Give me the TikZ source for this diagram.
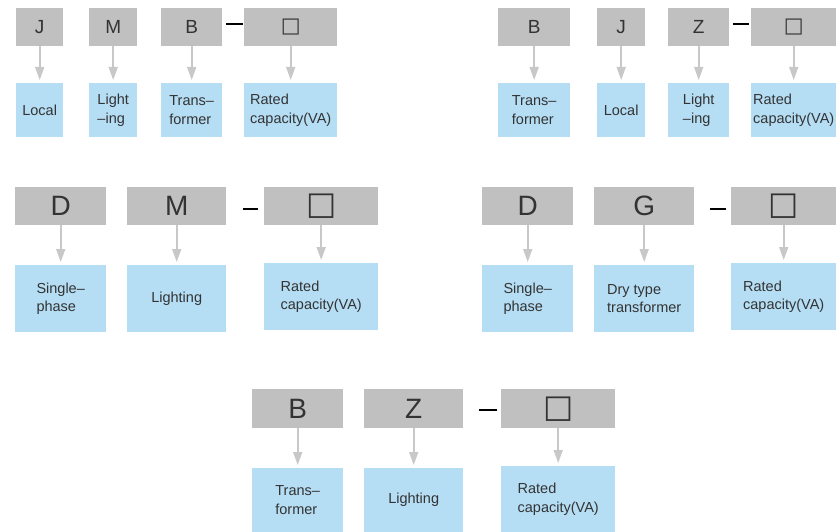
\documentclass[tikz,border=0pt]{standalone}
\usepackage{fontspec}
\setmainfont{Liberation Sans}
\newfontfamily\symfont{DejaVu Sans}
\usetikzlibrary{arrows.meta}
\definecolor{codegray}{HTML}{C0C0C0}
\definecolor{descblue}{HTML}{B5DEF5}
\definecolor{arrowgray}{HTML}{C8C8C8}
\definecolor{txt}{HTML}{333333}
\tikzset{
  code/.style={fill=codegray, draw=none, anchor=north west, inner sep=0pt, text=txt},
  codesmall/.style={code, font=\fontsize{19}{22}\selectfont, minimum height=38pt},
  codebig/.style={code, font=\fontsize{28}{32}\selectfont},
  desc/.style={fill=descblue, draw=none, anchor=north west, inner sep=0pt, align=left, text=txt, font=\fontsize{14.5}{18.5}\selectfont},
  arr/.style={draw=arrowgray, line width=1.6pt, -{Triangle[length=13pt,width=9pt]}, shorten >=3pt},
  hyph/.style={draw=black, line width=1.8pt},
}
\newcommand{\sq}[1]{{\symfont\fontsize{#1}{#1}\selectfont □}}
\begin{document}
\begin{tikzpicture}[x=1pt,y=-1pt]
\useasboundingbox (0,0) rectangle (836,532);
% ---------- top left ----------
\node[codesmall, minimum width=47pt] (a1) at (16,8) {J};
\node[codesmall, minimum width=48pt] (a2) at (89,8) {M};
\node[codesmall, minimum width=61pt] (a3) at (161,8) {B};
\node[codesmall, minimum width=93pt] (a4) at (244,8) {\sq{21}};
\node[desc, minimum width=47pt, minimum height=54pt] (a1d) at (16,83) {Local};
\node[desc, minimum width=48pt, minimum height=54pt] (a2d) at (89,83) {Light\\–ing};
\node[desc, minimum width=61pt, minimum height=54pt] (a3d) at (161,83) {Trans–\\former};
\node[desc, minimum width=93pt, minimum height=54pt] (a4d) at (244,83) {Rated\\capacity(VA)};
\foreach \n in {a1,a2,a3,a4} \draw[arr] (\n.south) -- (\n.south |- \n d.north);
\draw[hyph] ([xshift=4pt,yshift=3pt]a3.east) -- ([xshift=-1pt,yshift=3pt]a4.west);
% ---------- top right ----------
\node[codesmall, minimum width=72pt] (b1) at (498,8) {B};
\node[codesmall, minimum width=48pt] (b2) at (597,8) {J};
\node[codesmall, minimum width=61pt] (b3) at (668,8) {Z};
\node[codesmall, minimum width=85pt] (b4) at (751,8) {\sq{21}};
\node[desc, minimum width=72pt, minimum height=54pt] (b1d) at (498,83) {Trans–\\former};
\node[desc, minimum width=48pt, minimum height=54pt] (b2d) at (597,83) {Local};
\node[desc, minimum width=61pt, minimum height=54pt] (b3d) at (668,83) {Light\\–ing};
\node[desc, minimum width=85pt, minimum height=54pt, text width=81pt, inner xsep=2pt] (b4d) at (751,83) {Rated\\capacity(VA)};
\foreach \n in {b1,b2,b3,b4} \draw[arr] (\n.south) -- (\n.south |- \n d.north);
\draw[hyph] ([xshift=4pt,yshift=3pt]b3.east) -- ([xshift=-2pt,yshift=3pt]b4.west);
% ---------- middle left ----------
\node[codebig, minimum width=91pt, minimum height=38pt] (c1) at (15,187) {D};
\node[codebig, minimum width=99pt, minimum height=38pt] (c2) at (127,187) {M};
\node[codebig, minimum width=114pt, minimum height=38pt] (c3) at (264,187) {\sq{32}};
\node[desc, minimum width=91pt, minimum height=67pt] (c1d) at (15,265) {Single–\\phase};
\node[desc, minimum width=99pt, minimum height=67pt] (c2d) at (127,265) {Lighting};
\node[desc, minimum width=114pt, minimum height=67pt] (c3d) at (264,263) {Rated\\capacity(VA)};
\foreach \n in {c1,c2,c3} \draw[arr] (\n.south) -- (\n.south |- \n d.north);
\draw[hyph] ([xshift=17pt,yshift=-3pt]c2.east) -- ([xshift=-6pt,yshift=-3pt]c3.west);
% ---------- middle right ----------
\node[codebig, minimum width=91pt, minimum height=38pt] (d1) at (482,187) {D};
\node[codebig, minimum width=100pt, minimum height=38pt] (d2) at (594,187) {G};
\node[codebig, minimum width=105pt, minimum height=38pt] (d3) at (731,187) {\sq{32}};
\node[desc, minimum width=91pt, minimum height=67pt] (d1d) at (482,265) {Single–\\phase};
\node[desc, minimum width=100pt, minimum height=67pt] (d2d) at (594,265) {Dry type\\transformer};
\node[desc, minimum width=105pt, minimum height=67pt] (d3d) at (731,263) {Rated\\capacity(VA)};
\foreach \n in {d1,d2,d3} \draw[arr] (\n.south) -- (\n.south |- \n d.north);
\draw[hyph] ([xshift=16pt,yshift=-3pt]d2.east) -- ([xshift=-5pt,yshift=-3pt]d3.west);
% ---------- bottom ----------
\node[codebig, minimum width=91pt, minimum height=39pt] (e1) at (252,389) {B};
\node[codebig, minimum width=99pt, minimum height=39pt] (e2) at (364,389) {Z};
\node[codebig, minimum width=114pt, minimum height=39pt] (e3) at (501,389) {\sq{32}};
\node[desc, minimum width=91pt, minimum height=64pt] (e1d) at (252,468) {Trans–\\former};
\node[desc, minimum width=99pt, minimum height=64pt] (e2d) at (364,468) {Lighting};
\node[desc, minimum width=114pt, minimum height=66pt] (e3d) at (501,466) {Rated\\capacity(VA)};
\foreach \n in {e1,e2,e3} \draw[arr] (\n.south) -- (\n.south |- \n d.north);
\draw[hyph] ([xshift=16pt,yshift=-1pt]e2.east) -- ([xshift=-4pt,yshift=-1pt]e3.west);
\end{tikzpicture}
\end{document}
